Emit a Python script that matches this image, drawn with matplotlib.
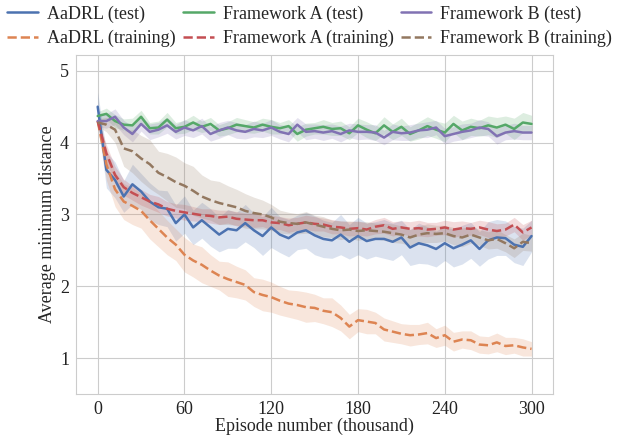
import numpy as np
import matplotlib
matplotlib.use("Agg")
import matplotlib.pyplot as plt
import seaborn as sns

sns.set_style("whitegrid")
plt.rcParams['font.family'] = ['Liberation Serif', 'DejaVu Serif']
plt.rcParams['mathtext.fontset'] = 'stix'

# episode number (thousand)
episodes = np.arange(0, 301, 6)

aadrl_test = [4.50, 3.62, 3.48, 3.25, 3.42, 3.32, 3.18, 3.10, 3.08, 2.88,
              3.00, 2.82, 2.92, 2.82, 2.72, 2.80, 2.78, 2.88, 2.78, 2.70,
              2.82, 2.72, 2.67, 2.75, 2.78, 2.71, 2.66, 2.64, 2.72, 2.62,
              2.70, 2.63, 2.66, 2.66, 2.62, 2.68, 2.54, 2.60, 2.57, 2.52,
              2.60, 2.53, 2.58, 2.64, 2.52, 2.64, 2.68, 2.67, 2.58, 2.55,
              2.70]
aadrl_test_sd = [0.20, 0.25, 0.25, 0.22, 0.28, 0.25, 0.26, 0.24, 0.25, 0.25,
                 0.26, 0.24, 0.25, 0.26, 0.24, 0.27, 0.25, 0.26, 0.24, 0.27,
                 0.28, 0.25, 0.26, 0.24, 0.25, 0.27, 0.26, 0.25, 0.28, 0.24,
                 0.26, 0.25, 0.24, 0.27, 0.26, 0.24, 0.25, 0.28, 0.26, 0.25,
                 0.24, 0.26, 0.27, 0.25, 0.24, 0.26, 0.25, 0.24, 0.25, 0.26,
                 0.22]

aadrl_train = [4.30, 3.70, 3.35, 3.18, 3.12, 3.05, 2.92, 2.80, 2.68, 2.58,
               2.44, 2.36, 2.30, 2.22, 2.15, 2.10, 2.06, 2.02, 1.92, 1.88,
               1.85, 1.80, 1.76, 1.74, 1.71, 1.70, 1.66, 1.64, 1.56, 1.44,
               1.53, 1.51, 1.49, 1.40, 1.37, 1.34, 1.32, 1.33, 1.35, 1.28,
               1.32, 1.23, 1.26, 1.25, 1.19, 1.18, 1.22, 1.17, 1.18, 1.15,
               1.13]
aadrl_train_sd = [0.10, 0.22, 0.24, 0.25, 0.26, 0.24, 0.26, 0.25, 0.24, 0.22,
                  0.24, 0.23, 0.25, 0.22, 0.20, 0.24, 0.22, 0.21, 0.20, 0.22,
                  0.21, 0.20, 0.19, 0.20, 0.21, 0.19, 0.18, 0.20, 0.18, 0.17,
                  0.16, 0.17, 0.15, 0.16, 0.15, 0.14, 0.15, 0.14, 0.15, 0.13,
                  0.14, 0.13, 0.12, 0.13, 0.12, 0.12, 0.13, 0.12, 0.11, 0.12,
                  0.10]

fa_test = [4.37, 4.40, 4.30, 4.25, 4.24, 4.36, 4.20, 4.21, 4.32, 4.20,
           4.22, 4.28, 4.22, 4.26, 4.17, 4.20, 4.25, 4.23, 4.21, 4.25,
           4.22, 4.20, 4.23, 4.12, 4.18, 4.20, 4.22, 4.19, 4.20, 4.13,
           4.24, 4.18, 4.13, 4.24, 4.15, 4.22, 4.12, 4.17, 4.23, 4.18,
           4.14, 4.26, 4.17, 4.22, 4.20, 4.24, 4.21, 4.25, 4.19, 4.28,
           4.26]
fa_test_sd = [0.06, 0.08, 0.09, 0.08, 0.10, 0.09, 0.08, 0.09, 0.10, 0.08,
              0.09, 0.10, 0.08, 0.09, 0.08, 0.09, 0.10, 0.09, 0.08, 0.09,
              0.10, 0.08, 0.09, 0.10, 0.09, 0.08, 0.10, 0.09, 0.10, 0.09,
              0.10, 0.11, 0.10, 0.12, 0.11, 0.12, 0.10, 0.12, 0.13, 0.12,
              0.13, 0.12, 0.13, 0.12, 0.11, 0.13, 0.14, 0.12, 0.15, 0.14,
              0.12]

fa_train = [4.30, 3.85, 3.55, 3.38, 3.30, 3.24, 3.18, 3.14, 3.08, 3.05,
            3.03, 3.01, 2.99, 2.98, 2.96, 2.97, 2.94, 2.93, 2.92, 2.92,
            2.89, 2.88, 2.85, 2.87, 2.89, 2.87, 2.86, 2.83, 2.82, 2.80,
            2.81, 2.79, 2.83, 2.85, 2.80, 2.82, 2.80, 2.81, 2.79, 2.80,
            2.82, 2.79, 2.81, 2.80, 2.82, 2.79, 2.77, 2.79, 2.86, 2.75,
            2.82]
fa_train_sd = [0.05, 0.12, 0.12, 0.11, 0.10, 0.11, 0.10, 0.11, 0.10, 0.10,
               0.11, 0.10, 0.09, 0.10, 0.10, 0.09, 0.10, 0.09, 0.10, 0.09,
               0.10, 0.09, 0.10, 0.09, 0.10, 0.10, 0.09, 0.10, 0.09, 0.10,
               0.10, 0.09, 0.10, 0.11, 0.10, 0.09, 0.10, 0.11, 0.10, 0.09,
               0.10, 0.11, 0.10, 0.09, 0.10, 0.11, 0.10, 0.09, 0.10, 0.11,
               0.10]

fb_test = [4.30, 4.30, 4.36, 4.21, 4.12, 4.26, 4.15, 4.18, 4.24, 4.15,
           4.21, 4.17, 4.23, 4.12, 4.17, 4.21, 4.17, 4.15, 4.19, 4.17,
           4.21, 4.15, 4.12, 4.25, 4.15, 4.16, 4.14, 4.16, 4.12, 4.17,
           4.15, 4.15, 4.14, 4.07, 4.15, 4.13, 4.14, 4.17, 4.18, 4.21,
           4.09, 4.12, 4.15, 4.17, 4.21, 4.19, 4.09, 4.14, 4.16, 4.14,
           4.14]
fb_test_sd = [0.08, 0.10, 0.11, 0.10, 0.11, 0.10, 0.11, 0.10, 0.11, 0.10,
              0.11, 0.10, 0.11, 0.10, 0.11, 0.10, 0.11, 0.10, 0.11, 0.10,
              0.11, 0.10, 0.11, 0.10, 0.11, 0.10, 0.11, 0.10, 0.11, 0.10,
              0.11, 0.10, 0.11, 0.10, 0.11, 0.10, 0.11, 0.10, 0.11, 0.10,
              0.11, 0.10, 0.11, 0.10, 0.11, 0.10, 0.11, 0.10, 0.11, 0.10,
              0.10]

fb_train = [4.28, 4.25, 4.18, 3.92, 3.88, 3.78, 3.70, 3.58, 3.52, 3.45,
            3.40, 3.33, 3.25, 3.20, 3.16, 3.13, 3.10, 3.05, 3.02, 3.00,
            2.96, 2.90, 2.88, 2.87, 2.89, 2.86, 2.83, 2.80, 2.78, 2.79,
            2.77, 2.78, 2.77, 2.76, 2.74, 2.72, 2.68, 2.72, 2.74, 2.73,
            2.74, 2.70, 2.68, 2.72, 2.68, 2.64, 2.66, 2.60, 2.53, 2.62,
            2.60]
fb_train_sd = [0.05, 0.10, 0.18, 0.25, 0.30, 0.32, 0.34, 0.30, 0.33, 0.35,
               0.32, 0.34, 0.30, 0.28, 0.30, 0.27, 0.25, 0.24, 0.22, 0.20,
               0.18, 0.16, 0.15, 0.14, 0.15, 0.13, 0.14, 0.12, 0.13, 0.12,
               0.13, 0.12, 0.11, 0.12, 0.13, 0.12, 0.11, 0.12, 0.13, 0.12,
               0.11, 0.12, 0.13, 0.12, 0.11, 0.12, 0.13, 0.12, 0.13, 0.12,
               0.11]

pal = sns.color_palette("deep")

fig = plt.figure(figsize=(6.23, 4.36), dpi=100)
ax = fig.add_axes([0.122, 0.096, 0.766, 0.778])

series = [
    ('AaDRL (test)', aadrl_test, aadrl_test_sd, pal[0], '-'),
    ('AaDRL (training)', aadrl_train, aadrl_train_sd, pal[1], '--'),
    ('Framework A (test)', fa_test, fa_test_sd, pal[2], '-'),
    ('Framework A (training)', fa_train, fa_train_sd, pal[3], '--'),
    ('Framework B (test)', fb_test, fb_test_sd, pal[4], '-'),
    ('Framework B (training)', fb_train, fb_train_sd, pal[5], '--'),
]

for name, mean, sd, col, ls in series:
    mean = np.array(mean)
    sd = np.array(sd)
    ax.fill_between(episodes, mean - sd, mean + sd, color=col, alpha=0.2, lw=0)
    ax.plot(episodes, mean, ls, color=col, lw=1.8, label=name)

ax.set_xticks([0, 60, 120, 180, 240, 300])
ax.set_yticks([1, 2, 3, 4, 5])
ax.set_xlim(-15, 315)
ax.set_ylim(0.5, 5.22)
ax.tick_params(labelsize=13, colors='#222222', pad=1.5)
ax.set_xlabel('Episode number (thousand)', fontsize=13, labelpad=0)
ax.set_ylabel('Average minimum distance', fontsize=13, labelpad=3)

ax.legend(ncol=3, loc='lower center', bbox_to_anchor=(0.49, 0.985),
          frameon=False, fontsize=13, handlelength=1.7, columnspacing=0.4,
          handletextpad=0.5, labelspacing=0.4, borderaxespad=0.3)

fig.savefig('out.png', dpi=100)
